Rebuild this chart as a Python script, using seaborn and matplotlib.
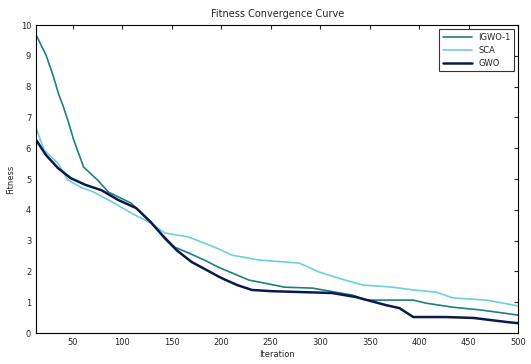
import numpy as np
import pandas as pd
import matplotlib
matplotlib.use("Agg")
import matplotlib.pyplot as plt
import seaborn as sns

# values (iteration, best fitness)
iter_a = [13, 23, 30, 36, 40, 45, 51, 61, 75, 86, 96, 109, 126, 136, 153, 167, 183, 197,
          211, 228, 244, 264, 292, 315, 333, 346, 394, 407, 434, 462, 485, 500]
fit_a = [9.68, 9.03, 8.38, 7.73, 7.40, 6.92, 6.27, 5.39, 4.97, 4.58, 4.42, 4.22, 3.67, 3.34,
         2.79, 2.60, 2.37, 2.14, 1.95, 1.72, 1.62, 1.49, 1.46, 1.33, 1.23, 1.07, 1.07, 0.97,
         0.84, 0.75, 0.65, 0.58]

iter_b = [13, 21, 35, 45, 58, 71, 92, 109, 129, 143, 167, 193, 211, 238, 264, 279, 299,
          325, 343, 373, 394, 417, 434, 468, 485, 500]
fit_b = [6.66, 5.94, 5.52, 4.97, 4.74, 4.58, 4.22, 3.90, 3.57, 3.25, 3.12, 2.79, 2.53, 2.37,
         2.31, 2.27, 1.98, 1.72, 1.56, 1.49, 1.40, 1.33, 1.14, 1.07, 0.97, 0.88]

iter_c = [13, 23, 35, 48, 63, 79, 96, 114, 129, 143, 155, 170, 185, 200, 216, 231, 251,
          282, 312, 336, 366, 380, 394, 427, 455, 488, 500]
fit_c = [6.27, 5.78, 5.36, 5.03, 4.81, 4.64, 4.32, 4.06, 3.60, 3.08, 2.69, 2.31, 2.05, 1.79,
         1.56, 1.40, 1.36, 1.33, 1.30, 1.17, 0.91, 0.81, 0.52, 0.52, 0.49, 0.36, 0.32]

series_names = ["IGWO-1", "SCA", "GWO"]
x_ticks = [50, 100, 150, 200, 250, 300, 350, 400, 450, 500]
y_ticks = [0, 1, 2, 3, 4, 5, 6, 7, 8, 9, 10]

sns.set_style("white")
plt.rcParams['font.family'] = ['DejaVu Sans']

fig, ax = plt.subplots(figsize=(5.31, 3.64), dpi=100)
fig.subplots_adjust(left=0.068, right=0.976, top=0.931, bottom=0.085)

styles = [("#1f7f80", 1.2), ("#6fcfdc", 1.2), ("#0a1a4a", 1.8)]
data = [(iter_a, fit_a), (iter_b, fit_b), (iter_c, fit_c)]
for name, (xs, ys), (col, lw) in zip(series_names, data, styles):
    df = pd.DataFrame({"Iteration": xs, "Fitness": ys})
    sns.lineplot(data=df, x="Iteration", y="Fitness", ax=ax, color=col, linewidth=lw,
                 label=name)

ax.set_xlim(13, 500)
ax.set_ylim(0, 10)
ax.set_xticks(x_ticks)
ax.set_yticks(y_ticks)
ax.tick_params(direction="in", top=True, right=True, labelsize=6, length=3, width=0.8)
for s in ax.spines.values():
    s.set_color("black")
    s.set_linewidth(0.8)

ax.set_title("Fitness Convergence Curve", fontsize=7, pad=6)
ax.set_xlabel("Iteration", fontsize=6, labelpad=2)
ax.set_ylabel("Fitness", fontsize=6, labelpad=4)

leg = ax.legend(loc="upper right", fontsize=6, frameon=True, fancybox=False,
                edgecolor="black", handlelength=3.5, borderpad=0.4)
leg.get_frame().set_linewidth(0.8)

fig.savefig("out.png", dpi=100)
